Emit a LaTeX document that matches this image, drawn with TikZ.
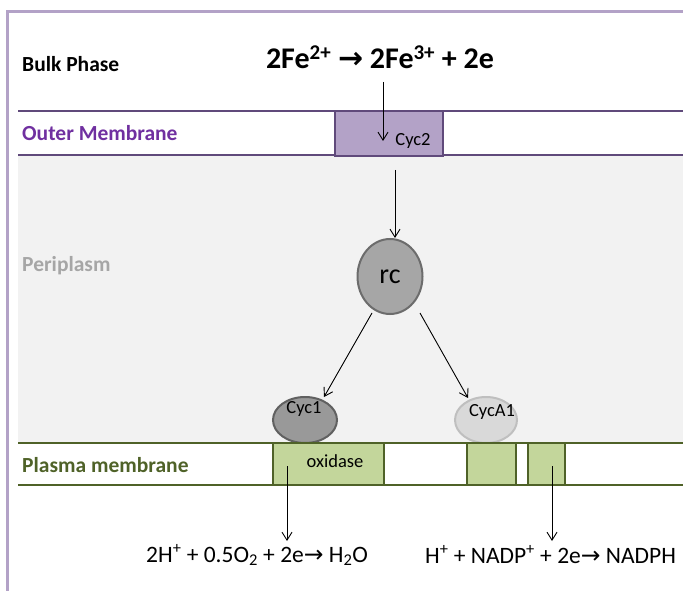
\documentclass[tikz,border=0pt]{standalone}
\usepackage{fontspec}
\setmainfont{Carlito}
\newfontfamily\arrfont{DejaVu Sans}
\usetikzlibrary{arrows.meta,shapes.geometric}
\definecolor{framec}{HTML}{B3A2C7}
\definecolor{omline}{HTML}{604A7B}
\definecolor{omtext}{HTML}{7030A0}
\definecolor{perifill}{HTML}{F2F2F2}
\definecolor{peritext}{HTML}{A6A6A6}
\definecolor{pmline}{HTML}{4F6228}
\definecolor{pmfill}{HTML}{C3D69B}
\tikzset{
  lbl/.style={font=\bfseries\fontsize{21.5}{24}\selectfont, anchor=west, inner sep=0pt},
  membline/.style={line width=2pt},
  greenbox/.style={draw=pmline, fill=pmfill, line width=2.5pt, inner sep=0pt},
  flow/.style={-{Straight Barb[length=8pt,width=10pt]}, line width=0.9pt},
  eqtext/.style={font=\fontsize{23.5}{26}\selectfont, inner sep=0pt},
  small/.style={font=\fontsize{18.5}{21}\selectfont, inner sep=0pt}
}
\begin{document}
\begin{tikzpicture}[x=1pt,y=-1pt]
\useasboundingbox (0,0) rectangle (683,591);
% periplasm
\fill[perifill] (18,155) rectangle (683,443);
% frame
\draw[framec, line width=3pt] (7,591) -- (7,12) -- (683,12);
% outer membrane lines
\draw[omline, membline] (18,111) -- (683,111);
\draw[omline, membline] (18,155) -- (683,155);
% plasma membrane lines
\draw[pmline, membline] (18,443) -- (683,443);
\draw[pmline, membline] (18,485) -- (683,485);
% labels
\node[lbl] (bulk) at (22,64) {Bulk Phase};
\node[lbl, text=omtext] (outer) at (22,133) {Outer Membrane};
\node[lbl, text=peritext] (peri) at (22,266) {Periplasm};
\node[lbl, text=pmline] (plasma) at (22,465) {Plasma membrane};
% top equation
\node[font=\bfseries\fontsize{30}{33}\selectfont, inner sep=0pt] (eq) at (380,57)
  {2Fe\textsuperscript{2+} {\arrfont\bfseries →} 2Fe\textsuperscript{3+} + 2e};
% Cyc2
\node[draw=omline, fill=framec, line width=2pt, minimum width=108pt, minimum height=45pt, inner sep=0pt] (cyc2) at (389,133.5) {};
\node[small] (cyc2l) at (413,141) {Cyc2};
% rc
\node[ellipse, draw=gray!85!black, fill=peritext, line width=2pt, minimum width=65pt, minimum height=75pt, inner sep=0pt, font=\fontsize{28}{30}\selectfont] (rc) at (390,276.5) {rc};
% Cyc1, CycA1
\node[ellipse, draw=gray!75!black, fill=gray!80, line width=2pt, minimum width=64pt, minimum height=46pt, inner sep=0pt] (cyc1) at (305,420) {};
\node[small] (cyc1l) at (304,409) {Cyc1};
\node[ellipse, draw=gray!50, fill=gray!30, line width=2pt, minimum width=62pt, minimum height=46pt, inner sep=0pt] (cyca1) at (486,420) {};
\node[small] (cyca1l) at (492,412) {CycA1};
% green boxes
\node[greenbox, minimum width=111pt, minimum height=42pt] (oxi) at (328.5,464) {};
\node[small] (oxil) at (335,461) {oxidase};
\node[greenbox, minimum width=49pt, minimum height=42pt] (gb2) at (491.5,464) {};
\node[greenbox, minimum width=37pt, minimum height=42pt] (gb3) at (546.5,464) {};
% bottom equations
\node[eqtext, anchor=west] (eqL) at (146,555)
  {2H\textsuperscript{+} + 0.5O\textsubscript{2} + 2e{\arrfont →} H\textsubscript{2}O};
\node[eqtext, anchor=west] (eqR) at (425,555)
  {H\textsuperscript{+} + NADP\textsuperscript{+} + 2e{\arrfont →} NADPH};
% arrow coordinates
\coordinate (a1s) at (383,82);
\coordinate (a1e) at (383,141);
\coordinate (a2s) at (395,170);
\coordinate (a3s) at (372,313);
\coordinate (a3e) at (324,397);
\coordinate (a4s) at (420,313);
\coordinate (a4e) at (468,398);
\coordinate (a5s) at (287,466);
\coordinate (a5e) at (287,541);
\coordinate (a6s) at (552,466);
\coordinate (a6e) at (552,541);
\draw[flow] (a1s) -- (a1e);
\draw[flow] (a2s) -- (a2s |- rc.north);
\draw[flow] (a3s) -- (a3e);
\draw[flow] (a4s) -- (a4e);
\draw[flow] (a5s) -- (a5e);
\draw[flow] (a6s) -- (a6e);
\end{tikzpicture}
\end{document}
